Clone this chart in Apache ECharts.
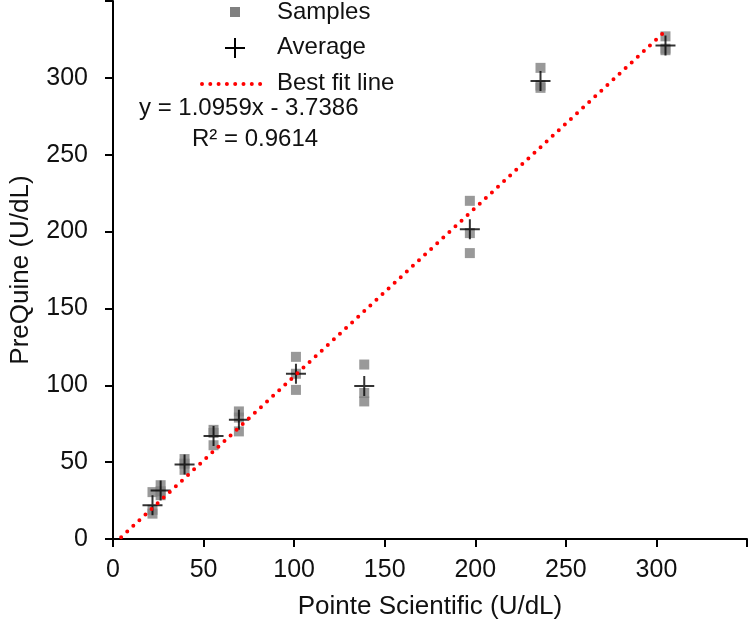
<!DOCTYPE html>
<html>
<head>
<meta charset="utf-8">
<title>PreQuine vs Pointe Scientific</title>
<script src="https://cdn.jsdelivr.net/npm/echarts@6/dist/echarts.min.js"></script>
<style>
  html, body { margin: 0; padding: 0; background: #fff; }
  #chart { width: 750px; height: 628px; }
</style>
</head>
<body>
<div id="chart"></div>
<script>
// x position of each sample group (Pointe Scientific, U/dL)
const groupX = [21.8, 26.3, 39.5, 55.5, 69.5, 101, 138.7, 197, 236, 305]
// three PreQuine readings per group
const samplesA = [30.5, 35, 52, 71, 83, 118.5, 113.5, 220, 306.5, 327]
const samplesB = [19, 31, 49, 69, 79, 107.5, 95, 199, 295, 319]
const samplesC = [16.5, 28.5, 45, 61, 70, 97, 89.5, 186, 293.5, 318]
// group averages
const averages = [22, 31.5, 48.5, 67, 77.5, 107.5, 99.5, 201.5, 298, 321]
// ends of the trend line as drawn
const fitX = [4.5, 305]
const fitY = [1.2, 330.5]
const xTicks = [0, 50, 100, 150, 200, 250, 300]
const yTicks = [0, 50, 100, 150, 200, 250, 300]

const FONT = 'Liberation Sans, Arial, sans-serif'
const TEXT = '#111'

const sampleData = []
groupX.forEach((x, i) => {
  sampleData.push([x, samplesA[i]], [x, samplesB[i]], [x, samplesC[i]])
})
const avgData = groupX.map((x, i) => [x, averages[i]])
const fitData = fitX.map((x, i) => [x, fitY[i]])

const chart = echarts.init(document.getElementById('chart'))

const axisCommon = {
  type: 'value',
  min: 0,
  max: 350,
  interval: 50,
  splitLine: { show: false },
  axisLine: { show: true, onZero: false, lineStyle: { color: '#000', width: 2 } },
  axisTick: { show: true, inside: false, length: 8, lineStyle: { color: '#000', width: 2 } },
  nameLocation: 'middle',
  nameTextStyle: { fontFamily: FONT, fontSize: 26, color: TEXT }
}

const option = {
  animation: false,
  backgroundColor: '#fff',
  grid: { left: 104, right: 0, top: 1, bottom: 89 },
  xAxis: Object.assign({}, axisCommon, {
    name: 'Pointe Scientific (U/dL)',
    nameGap: 55,
    axisLabel: {
      margin: 19,
      fontFamily: FONT, fontSize: 25, color: TEXT,
      formatter: v => xTicks.includes(v) ? String(v) : ''
    }
  }),
  yAxis: Object.assign({}, axisCommon, {
    name: 'PreQuine (U/dL)',
    nameGap: 79,
    nameRotate: 90,
    axisLabel: {
      margin: 25,
      fontFamily: FONT, fontSize: 25, color: TEXT,
      formatter: v => yTicks.includes(v) ? String(v) : ''
    }
  }),
  graphic: [
    // legend
    { type: 'rect', shape: { x: 230, y: 7, width: 10, height: 10 }, style: { fill: '#808080' } },
    { type: 'text', left: 277, top: 0, style: { text: 'Samples', font: '24px ' + FONT, fill: TEXT } },
    { type: 'line', shape: { x1: 225, y1: 48, x2: 245, y2: 48 }, style: { stroke: '#000', lineWidth: 2 } },
    { type: 'line', shape: { x1: 235, y1: 38, x2: 235, y2: 58 }, style: { stroke: '#000', lineWidth: 2 } },
    { type: 'text', left: 277, top: 35, style: { text: 'Average', font: '24px ' + FONT, fill: TEXT } },
    { type: 'line', shape: { x1: 202, y1: 84, x2: 268, y2: 84 },
      style: { stroke: '#ff0000', lineWidth: 4, lineDash: [0, 8.3], lineCap: 'round' } },
    { type: 'text', left: 277, top: 71, style: { text: 'Best fit line', font: '24px ' + FONT, fill: TEXT } },
    // trend line label
    { type: 'text', left: 139, top: 96, style: { text: 'y = 1.0959x - 3.7386', font: '24px ' + FONT, fill: TEXT } },
    { type: 'text', left: 192, top: 127, style: { text: 'R² = 0.9614', font: '24px ' + FONT, fill: TEXT } }
  ],
  series: [
    {
      name: 'Samples',
      type: 'scatter',
      symbol: 'rect',
      symbolSize: 10,
      itemStyle: { color: '#808080' },
      data: sampleData,
      z: 2
    },
    {
      name: 'Average',
      type: 'scatter',
      symbol: 'path://M0,10L20,10M10,0L10,20',
      symbolSize: 20,
      itemStyle: { color: 'rgba(0,0,0,0)', borderColor: '#000', borderWidth: 2 },
      data: avgData,
      z: 3
    },
    {
      name: 'Best fit line',
      type: 'line',
      symbol: 'none',
      lineStyle: { color: '#ff0000', width: 4, type: [0, 8.3], cap: 'round' },
      data: fitData,
      z: 4
    }
  ]
}

chart.setOption(option)
</script>
</body>
</html>
